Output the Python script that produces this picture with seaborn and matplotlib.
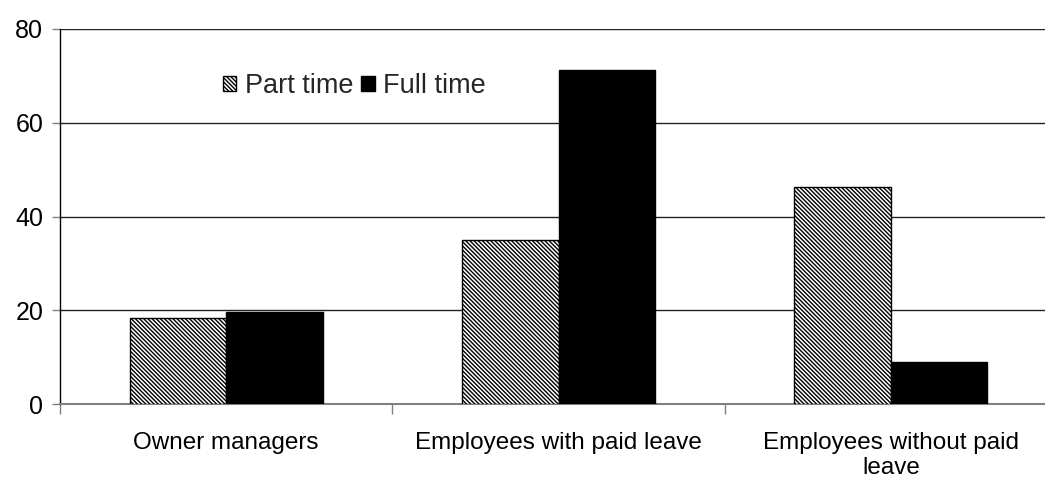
import matplotlib
matplotlib.use("Agg")
import matplotlib.pyplot as plt
import seaborn as sns
import pandas as pd
import numpy as np

categories = ["Owner managers", "Employees with paid leave", "Employees without paid\nleave"]
series = ["Part time", "Full time"]
part_time = [18.3, 34.9, 46.4]
full_time = [19.6, 71.3, 9.0]
y_ticks = [0, 20, 40, 60, 80]

df = pd.DataFrame({
    "category": categories * 2,
    "series": [series[0]] * 3 + [series[1]] * 3,
    "value": part_time + full_time,
})

sns.set_theme(style="white")
plt.rcParams["font.family"] = ["Liberation Sans", "DejaVu Sans"]
plt.rcParams["hatch.linewidth"] = 1.0
plt.rcParams["hatch.color"] = "black"

HATCH = "\\" * 8

fig = plt.figure(figsize=(10.45, 4.8), dpi=100)
ax = fig.add_axes([60 / 1045, 1 - 404 / 480, 997 / 1045, 375 / 480])

sns.barplot(data=df, x="category", y="value", hue="series",
            palette=["white", "black"], edgecolor="black", linewidth=1.0,
            width=0.58, gap=0, ax=ax, legend=True, zorder=3)

# diagonal hatching on the part-time bars
n = len(categories)
for p in ax.patches[:n]:
    p.set_hatch(HATCH)

ax.set_ylim(0, 80)
ax.set_xlim(-0.5, n - 0.5)
ax.set_yticks(y_ticks)
ax.yaxis.grid(True, color="#222222", linewidth=1.0, zorder=0)
ax.set_axisbelow(True)
ax.set_xlabel("")
ax.set_ylabel("")

for side in ["top", "right"]:
    ax.spines[side].set_visible(False)
ax.spines["left"].set_color("black")
ax.spines["left"].set_linewidth(1.0)
ax.spines["bottom"].set_color("#808080")
ax.spines["bottom"].set_linewidth(1.5)

ax.tick_params(axis="y", which="major", length=6, width=1, color="#808080",
               pad=6, labelsize=18, labelcolor="black", left=True)
ax.tick_params(axis="x", which="major", length=0, pad=20, labelsize=17.5,
               labelcolor="black")
ax.set_xticks(np.arange(-0.5, n, 1.0), minor=True)
ax.tick_params(axis="x", which="minor", length=7, width=1, color="#808080",
               bottom=True)

handles, labels = ax.get_legend_handles_labels()
handles[0].set_hatch(HATCH)
leg = ax.legend(handles, labels, ncol=2, frameon=False, loc="upper left",
                bbox_to_anchor=(0.1525, 0.912), fontsize=19.5,
                handlelength=0.5, handleheight=0.5, handletextpad=0.3,
                columnspacing=0.3, borderaxespad=0)

fig.savefig("out.png", dpi=100)
